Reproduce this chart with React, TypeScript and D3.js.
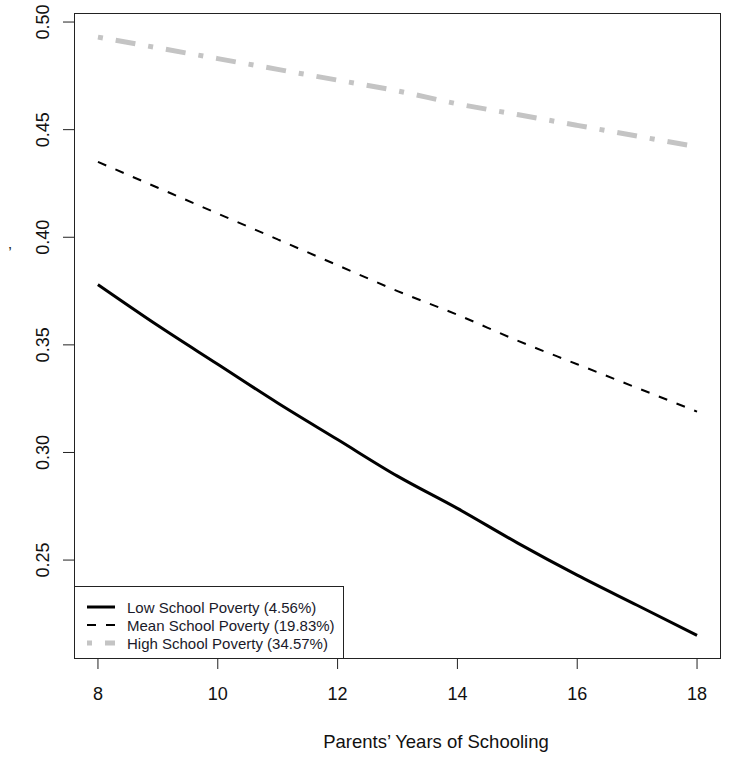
import React from "react";
import * as d3 from "d3";

const years = [8, 9, 10, 11, 12, 13, 14, 15, 16, 17, 18];
const lowPoverty = [0.378, 0.359, 0.341, 0.323, 0.306, 0.289, 0.274, 0.258, 0.243, 0.229, 0.215];
const meanPoverty = [0.435, 0.423, 0.411, 0.399, 0.387, 0.375, 0.364, 0.352, 0.341, 0.33, 0.319];
const highPoverty = [0.493, 0.488, 0.483, 0.478, 0.473, 0.468, 0.462, 0.457, 0.452, 0.447, 0.442];
const xTicks = [8, 10, 12, 14, 16, 18];
const yTicks = [0.25, 0.3, 0.35, 0.4, 0.45, 0.5];
const legendLabels = [
  "Low School Poverty (4.56%)",
  "Mean School Poverty (19.83%)",
  "High School Poverty (34.57%)",
];
const xTitle = "Parents\u2019 Years of Schooling";

const W = 729;
const H = 758;
const left = 74;
const right = 721;
const top = 13;
const bottom = 658;

const seriesStyles = [
  { color: "#000000", width: 3, dash: undefined as string | undefined, cap: "butt" },
  { color: "#000000", width: 2, dash: "9,10", cap: "butt" },
  { color: "#c4c4c4", width: 5, dash: "5,13,20,13", cap: "butt" },
];

export default function App() {
  const x = d3.scaleLinear().domain([7.6, 18.4]).range([left, right]);
  const y = d3.scaleLinear().domain([0.2045, 0.5042]).range([bottom, top]);
  const series = [lowPoverty, meanPoverty, highPoverty];
  const line = d3
    .line<number>()
    .x((_, i) => x(years[i]))
    .y((d) => y(d))
    .curve(d3.curveMonotoneX);

  const font = "'Liberation Sans', Arial, Helvetica, sans-serif";
  const legTop = 586;
  const legRight = 343;
  const rowY = [607, 625, 643];

  return (
    <svg
      width={W}
      height={H}
      style={{ position: "absolute", left: 0, top: 0, background: "#fff" }}
      fontFamily={font}
    >
      <rect x={0} y={0} width={W} height={H} fill="#fff" />
      {series.map((s, k) => (
        <path
          key={k}
          d={line(s) || ""}
          fill="none"
          stroke={seriesStyles[k].color}
          strokeWidth={seriesStyles[k].width}
          strokeDasharray={seriesStyles[k].dash}
          strokeLinecap={seriesStyles[k].cap as any}
        />
      ))}
      <rect
        x={left + 0.5}
        y={top + 0.5}
        width={right - left - 1}
        height={bottom - top}
        fill="none"
        stroke="#222"
        strokeWidth={1}
      />
      {xTicks.map((t) => (
        <g key={"x" + t}>
          <line x1={x(t)} x2={x(t)} y1={bottom} y2={bottom + 11} stroke="#222" />
          <text
            x={x(t)}
            y={694}
            fontSize={18}
            textAnchor="middle"
            dominantBaseline="central"
            fill="#111"
          >
            {t}
          </text>
        </g>
      ))}
      {yTicks.map((t) => (
        <g key={"y" + t}>
          <line x1={left - 11} x2={left} y1={y(t)} y2={y(t)} stroke="#222" />
          <text
            transform={`translate(43,${y(t)}) rotate(-90)`}
            fontSize={18}
            textAnchor="middle"
            dominantBaseline="central"
            fill="#111"
          >
            {d3.format(".2f")(t)}
          </text>
        </g>
      ))}
      <text
        x={436}
        y={741}
        fontSize={18.5}
        textAnchor="middle"
        dominantBaseline="central"
        fill="#111"
      >
        {xTitle}
      </text>
      <text x={10} y={259} fontSize={16} fill="#222" textAnchor="middle">
        {"\u2019"}
      </text>
      <rect
        x={left + 0.5}
        y={legTop + 0.5}
        width={legRight - left}
        height={bottom - legTop}
        fill="#fff"
        stroke="#222"
        strokeWidth={1}
      />
      {legendLabels.map((lab, k) => (
        <g key={lab}>
          <line
            x1={87}
            x2={115}
            y1={rowY[k]}
            y2={rowY[k]}
            stroke={seriesStyles[k].color}
            strokeWidth={seriesStyles[k].width}
            strokeDasharray={seriesStyles[k].dash}
          />
          <text
            x={127}
            y={rowY[k]}
            fontSize={15}
            dominantBaseline="central"
            fill="#1a1a2a"
          >
            {lab}
          </text>
        </g>
      ))}
    </svg>
  );
}
